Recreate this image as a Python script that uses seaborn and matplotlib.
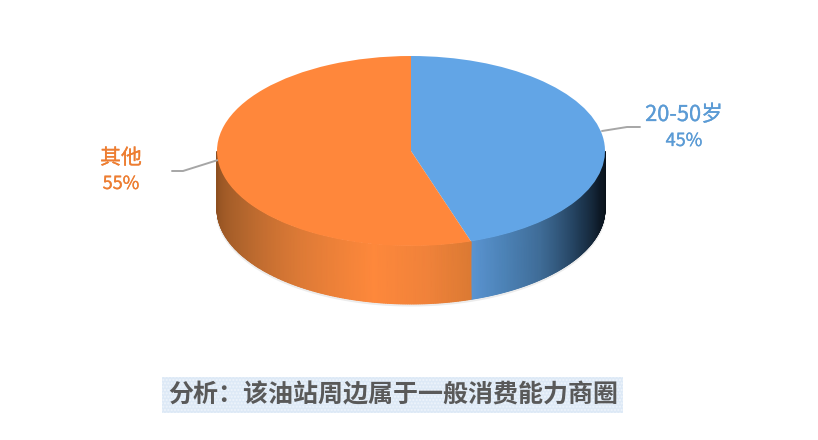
import numpy as np
import seaborn as sns
import matplotlib.pyplot as plt
import matplotlib.patheffects as pe
from matplotlib.colors import LinearSegmentedColormap
from matplotlib.patches import Rectangle

categories = ['20-50岁', '其他']
shares = [45, 55]
percent_labels = ['45%', '55%']
note = '分析：该油站周边属于一般消费能力商圈'

sns.set_theme(style='white')
plt.rcParams['font.family'] = ['Noto Sans CJK SC', 'DejaVu Sans']

top_colors = sns.color_palette(['#62a5e6', '#ff873b'])
label_colors = ['#5b9bd5', '#ed7d31']

# side shading, sampled along each part of the rim (right to left)
side_blue = LinearSegmentedColormap.from_list('side_blue', [
    (0.0, '#0a1219'), (0.2, '#0e1a27'), (0.41, '#1f3a54'), (0.67, '#3f6c97'),
    (0.85, '#4c82b6'), (1.0, '#5a94d1')])
side_orange = LinearSegmentedColormap.from_list('side_orange', [
    (0.0, '#dc7a33'), (0.12, '#f0823a'), (0.27, '#fe883b'), (0.49, '#dd7a36'),
    (0.74, '#b0642c'), (1.0, '#8e4f20')])
side_maps = [side_blue, side_orange]

# pixel geometry of the disc
W, H = 818, 440
CX, CY, A, B = 411, 151, 194, 95
DEPTH = 58 / B


def px(x, y):
    return (x - CX) / A, (CY - y) / B


fig = plt.figure(figsize=(W / 100, H / 100), dpi=100)
ax = fig.add_axes([0, 0, 1, 1])

# top face
ax.pie(shares, colors=top_colors, startangle=90, counterclock=False, radius=1,
       wedgeprops={'linewidth': 0})
ax.set_aspect('auto')
ax.set_xlim(-CX / A, (W - CX) / A)
ax.set_ylim((CY - H) / B, CY / B)

# front rim, one shaded band for each slice that reaches the front
edges = np.cumsum([0] + shares) / sum(shares) * 360
for i in range(len(shares)):
    lo, hi = max(edges[i], 90), min(edges[i + 1], 270)
    if lo >= hi:
        continue
    t = np.radians(np.linspace(lo, hi, 200))
    x = np.sin(t)
    y = np.cos(t)
    X = np.vstack([x, x])
    Y = np.vstack([y, y - DEPTH])
    C = np.linspace(0, 1, 200)
    ax.pcolormesh(X, Y, np.vstack([C, C]), cmap=side_maps[i], shading='gouraud', zorder=0)

# faint shadow under the rim
t = np.radians(np.linspace(95, 265, 200))
ax.plot(np.sin(t), np.cos(t) - DEPTH - 0.012, color='#ececec', lw=2, zorder=-1)

# leader lines
for pts in ([(602, 131), (627, 127), (640, 127)], [(218, 160), (183, 171), (172, 171)]):
    xs, ys = zip(*[px(*p) for p in pts])
    ax.plot(xs, ys, color='#a6a6a6', lw=1.4, zorder=0)

# slice labels
label_pos = [(684, 115, 141), (121, 158, 184)]
label_size = [15.7, 15]
for i, (lx, y1, y2) in enumerate(label_pos):
    for s, ly, size in ((categories[i], y1, label_size[i]), (percent_labels[i], y2, 13)):
        ax.text(*px(lx, ly), s, color=label_colors[i], fontsize=size, ha='center', va='center',
                path_effects=[pe.withStroke(linewidth=0.2, foreground=label_colors[i])])

# note under the chart
x0, y0 = px(162, 413)
x1, y1 = px(623, 377)
ax.add_patch(Rectangle((x0, y0), x1 - x0, y1 - y0, facecolor='#dde9f6', edgecolor='#eef4fb',
                       hatch='.....', linewidth=0))
ax.text(*px(393, 395), note, color='#595959', fontsize=18, fontweight='bold',
        ha='center', va='center')

ax.axis('off')
fig.savefig('out.png', dpi=100)
